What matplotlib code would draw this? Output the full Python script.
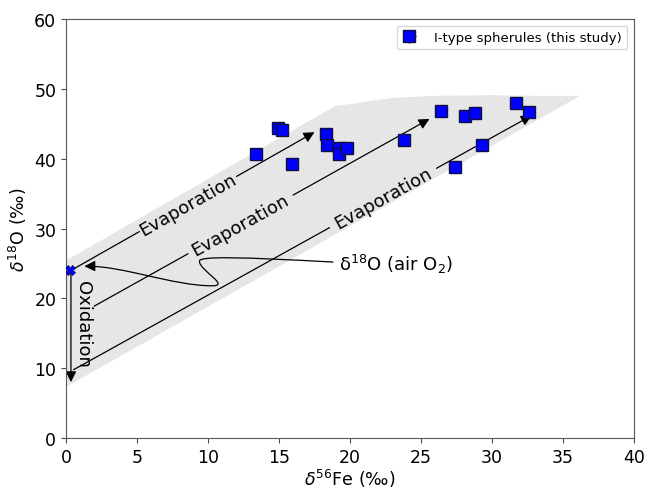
import numpy as np
import matplotlib.pyplot as plt
from matplotlib.patches import FancyArrowPatch
from matplotlib.path import Path

# I-type spherules (this study)
fe56 = [13.4, 14.9, 15.2, 15.9, 18.3, 18.4, 19.2, 19.2, 19.8, 23.8,
        26.4, 28.1, 28.8, 27.4, 29.3, 31.7, 32.6]
o18 = [40.7, 44.4, 44.1, 39.3, 43.5, 42.0, 41.5, 40.7, 41.6, 42.7,
       46.9, 46.1, 46.6, 38.8, 42.0, 48.0, 46.7]
fe56_err = [0.3] * len(fe56)
o18_err = [0.4] * len(o18)

# air O2 starting composition
air_fe, air_o = 0.3, 24.0

# shaded evaporation field
band_x_upper = [0.0, 19.0, 20.0, 21.5, 23.0, 26.0, 30.0, 33.0, 36.2]
band_y_upper = [25.4, 47.6, 47.8, 48.3, 48.7, 49.0, 49.1, 49.0, 49.0]
band_x_lower = [36.2, 0.0]
band_y_lower = [49.0, 7.3]

# evaporation trajectories: start, end, label position along line, gap
evap_start = [(0.35, 24.0), (2.0, 18.9), (0.55, 9.8)]
evap_end = [(17.5, 43.8), (25.6, 45.7), (32.8, 46.2)]
evap_tc = [0.48, 0.436, 0.675]
evap_gap = [0.2, 0.157, 0.117]

fig = plt.figure(figsize=(6.5, 4.89), dpi=100)
ax = fig.add_subplot(111)
fig.subplots_adjust(left=0.1015, right=0.9754, bottom=0.1022, top=0.959)
ax.set_xlim(0, 40)
ax.set_ylim(0, 60)

ax.fill(band_x_upper + band_x_lower, band_y_upper + band_y_lower,
        color='#e6e6e6', lw=0, zorder=0)


def arrow(p0, p1):
    a = FancyArrowPatch(p0, p1, arrowstyle='-|>', mutation_scale=16,
                        color='black', lw=0.9, shrinkA=0, shrinkB=0, zorder=2)
    ax.add_patch(a)


for (x0, y0), (x1, y1), tc, g in zip(evap_start, evap_end, evap_tc, evap_gap):
    ta, tb = tc - g, tc + g
    ax.plot([x0, x0 + ta * (x1 - x0)], [y0, y0 + ta * (y1 - y0)],
            color='black', lw=0.9, zorder=2)
    arrow((x0 + tb * (x1 - x0), y0 + tb * (y1 - y0)), (x1, y1))
    p = ax.transData.transform([(x0, y0), (x1, y1)])
    ang = np.degrees(np.arctan2(p[1, 1] - p[0, 1], p[1, 0] - p[0, 0]))
    ax.text(x0 + tc * (x1 - x0), y0 + tc * (y1 - y0), 'Evaporation',
            rotation=ang, rotation_mode='anchor', ha='center', va='center',
            fontsize=13, zorder=3)

# oxidation
arrow((0.35, 24.0), (0.35, 8.0))
ax.text(0.6, 16.4, 'Oxidation', rotation=270, ha='left', va='center',
        fontsize=13, zorder=3)

# curved pointer to the air O2 value
verts = [(18.8, 25.2),
         (12.5, 25.9), (9.3, 26.1), (9.4, 25.3),
         (9.4, 24.0), (11.6, 21.8), (10.3, 21.8),
         (7.5, 21.8), (4.0, 24.7), (1.3, 24.6)]
codes = [Path.MOVETO] + [Path.CURVE4] * 9
ax.add_patch(FancyArrowPatch(path=Path(verts, codes), arrowstyle='-|>',
                             mutation_scale=16, color='black', lw=0.9,
                             transform=ax.transData, zorder=2))
ax.text(19.2, 25.0, 'δ$^{18}$O (air O$_2$)', ha='left', va='center',
        fontsize=13, zorder=3)

ax.plot(air_fe, air_o, 'X', color='blue', ms=7, mec='#000080', mew=0.6,
        zorder=4)

ax.errorbar(fe56, o18, xerr=fe56_err, yerr=o18_err, fmt='s', ms=8,
            mfc='blue', mec='#101040', mew=1.0, ecolor='black', elinewidth=1,
            label='I-type spherules (this study)', zorder=5)

ax.set_xlabel('$\\delta^{56}$Fe (‰)', fontsize=12.5, labelpad=0.5)
ax.set_ylabel('$\\delta^{18}$O (‰)', fontsize=12.5)
ax.tick_params(labelsize=12.5, color='0.3')
for s in ax.spines.values():
    s.set_color('0.35')

ax.legend(loc='upper right', fontsize=9.5, handlelength=1.0,
          handletextpad=1.4)

fig.savefig('out.png', dpi=100)
